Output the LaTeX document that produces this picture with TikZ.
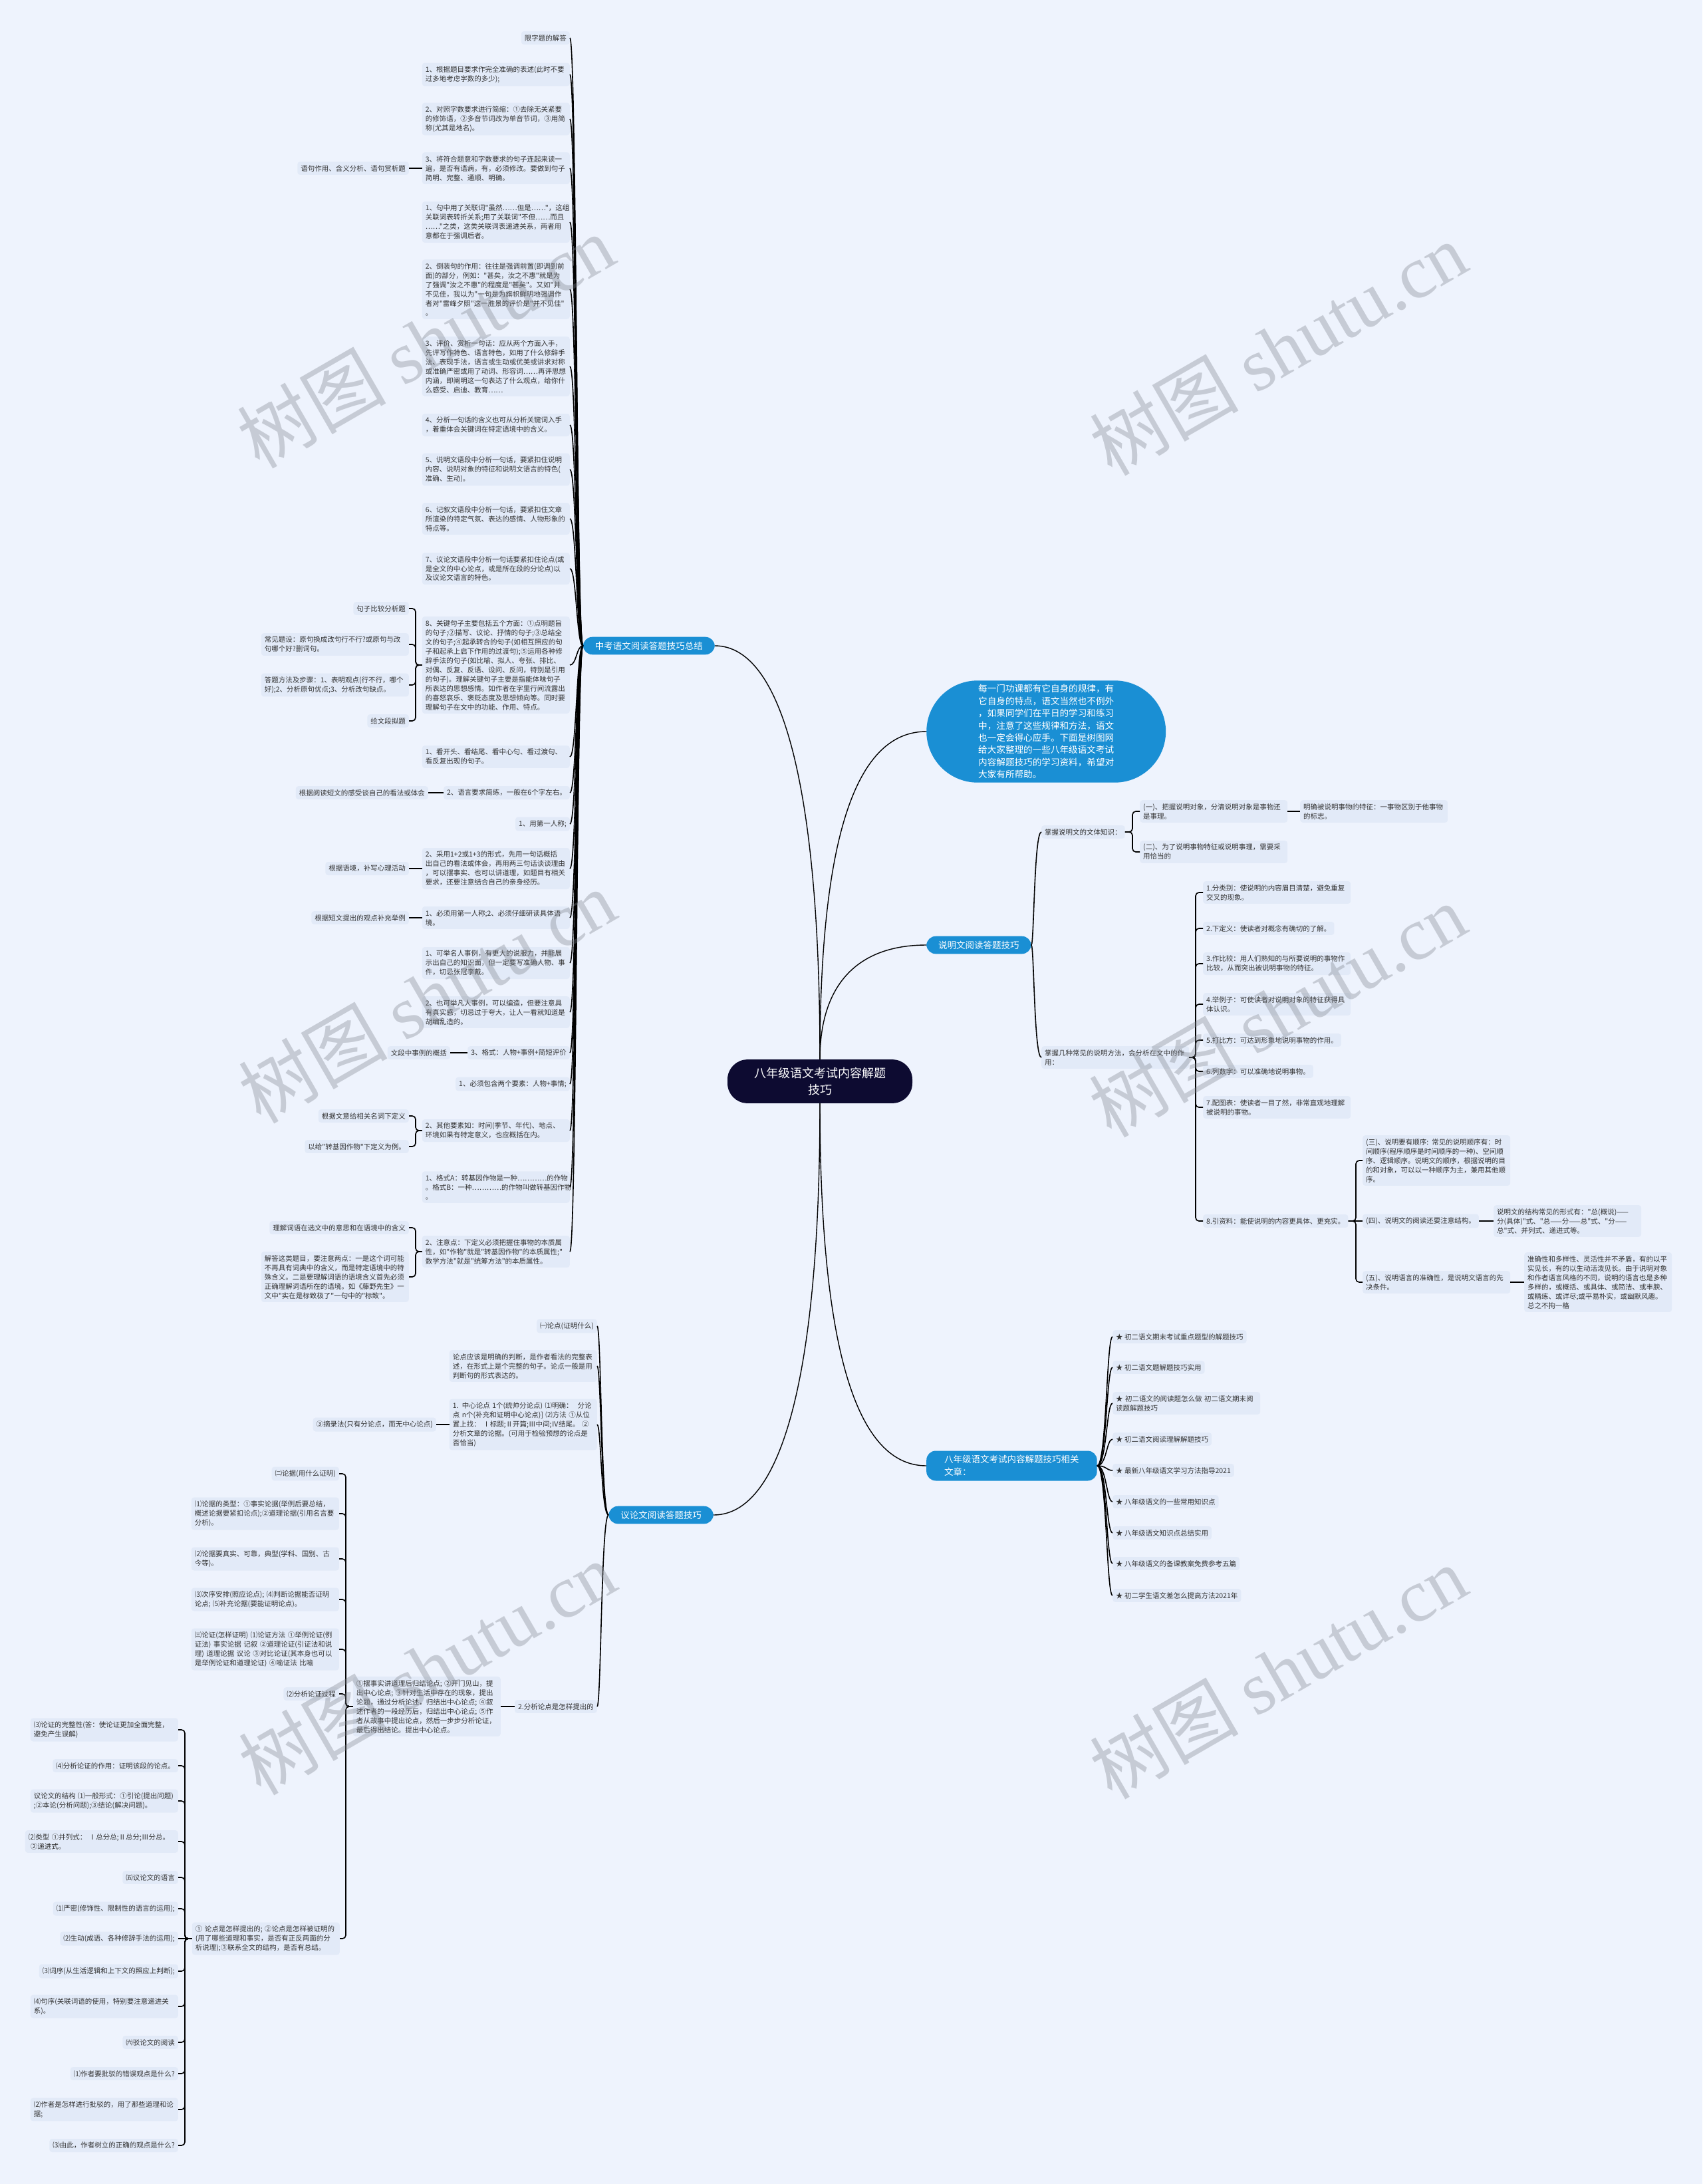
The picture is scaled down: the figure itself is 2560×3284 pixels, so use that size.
\documentclass[tikz,border=0pt]{standalone}
\usepackage{fontspec}
\newfontfamily\cjk{Noto Sans CJK SC}
\newfontfamily\wmfont{Liberation Serif}
\usetikzlibrary{calc}
\definecolor{bgc}{HTML}{EEF3FD}
\definecolor{boxc}{HTML}{E2EAF8}
\definecolor{txtc}{HTML}{333333}
\definecolor{bluec}{HTML}{1A8FD4}
\definecolor{navyc}{HTML}{0D0B31}
\definecolor{wmc}{HTML}{7C818B}
\newcommand\cv[3]{\draw[conn] (#1) .. controls (#3 |- #1) and (#3 |- #2) .. (#2);}
\newcommand\bk[3]{\draw[conn,rounded corners=5pt] (#2) -| (#3 |- #1) -- (#1);}
\begin{document}
\begin{tikzpicture}[x=1pt,y=-1pt,
 tb/.style={fill=boxc, rounded corners=4pt, inner xsep=5pt, inner ysep=5pt, text=txtc, font=\cjk\fontsize{10.5}{14}\selectfont},
 tw/.style={tb, text width=212pt, align=left},
 brn/.style={fill=bluec, rounded corners=14pt, text=white, font=\cjk\fontsize{13.5}{18.5}\selectfont, inner xsep=18pt, inner ysep=7pt},
 conn/.style={draw=black, line width=1.6pt},
 mainc/.style={draw=black, line width=1.4pt},
 wmk/.style={rotate=30, text=wmc, opacity=0.35, font=\cjk\fontsize{112}{112}\selectfont}]
\useasboundingbox (0,0) rectangle (2560,3284);
\fill[bgc] (0,0) rectangle (2560,3284);

% ---------- center and branches ----------
\node[fill=navyc, text=white, rounded corners=30pt, font=\cjk\fontsize{18}{25}\selectfont, align=center, inner xsep=40pt, inner ysep=12pt] (c) at (1233,1626) {八年级语文考试内容解题\\技巧};
\node[brn,anchor=east] (b1) at (1075,971) {中考语文阅读答题技巧总结};
\node[fill=bluec, text=white, rounded corners=77pt, font=\cjk\fontsize{13.6}{18.4}\selectfont, align=left, inner xsep=78pt, inner ysep=6pt, anchor=west] (intro) at (1393,1100) {每一门功课都有它自身的规律，有\\它自身的特点，语文当然也不例外\\，如果同学们在平日的学习和练习\\中，注意了这些规律和方法，语文\\也一定会得心应手。下面是树图网\\给大家整理的一些八年级语文考试\\内容解题技巧的学习资料，希望对\\大家有所帮助。};
\node[brn,anchor=west] (b3) at (1393,1421) {说明文阅读答题技巧};
\node[brn,anchor=west,align=left,inner xsep=27pt] (b4) at (1393,2204) {八年级语文考试内容解题技巧相关\\文章：};
\node[brn,anchor=east] (b5) at (1073,2278) {议论文阅读答题技巧};

\draw[mainc] (b1.east) .. controls (1180,971) and (1233,1200) .. (c.north);
\draw[mainc] (c.north) .. controls (1233,1250) and (1290,1100) .. (intro.west);
\draw[mainc] (c.north) .. controls (1233,1480) and (1290,1421) .. (b3.west);
\draw[mainc] (c.south) .. controls (1233,2000) and (1280,2204) .. (b4.west);
\draw[mainc] (c.south) .. controls (1233,2050) and (1180,2278) .. (b5.east);

\coordinate (sp1) at (867,0);
\coordinate (sp3) at (1555,0);
\coordinate (sp4) at (1664,0);
\coordinate (sp5) at (904,0);
\coordinate (bx1) at (625,0);
\coordinate (bx2) at (1703,0);
\coordinate (bx3) at (1798,0);
\coordinate (bx4) at (2039,0);
\coordinate (bx5) at (520,0);
\coordinate (bx6) at (278,0);

% ---------- branch 1 ----------
\node[tb,anchor=east] (a1) at (857,57) {限字题的解答};
\node[tw,anchor=east] (a2) at (857,112) {1、根据题目要求作完全准确的表述(此时不要\\过多地考虑字数的多少);};
\node[tw,anchor=east] (a3) at (857,179) {2、对照字数要求进行简缩：①去除无关紧要\\的修饰语，②多音节词改为单音节词，③用简\\称(尤其是地名)。};
\node[tw,anchor=east] (a4) at (857,253) {3、将符合题意和字数要求的句子连起来读一\\遍，是否有语病，有，必须修改。要做到句子\\简明、完整、通顺、明确。};
\node[tw,anchor=east] (a5) at (857,334) {1、句中用了关联词"虽然……但是……"，这组\\关联词表转折关系;用了关联词"不但……而且\\……"之类，这类关联词表递进关系，两者用\\意都在于强调后者。};
\node[tw,anchor=east] (a6) at (857,435) {2、倒装句的作用：往往是强调前置(即调到前\\面)的部分，例如："甚矣，汝之不惠"就是为\\了强调"汝之不惠"的程度是"甚矣"。又如"并\\不见佳，我以为"一句是为旗帜鲜明地强调作\\者对"雷峰夕照"这一胜景的评价是"并不见佳"\\。};
\node[tw,anchor=east] (a7) at (857,551) {3、评价、赏析一句话：应从两个方面入手，\\先评写作特色、语言特色，如用了什么修辞手\\法、表现手法，语言或生动或优美或讲求对称\\或准确严密或用了动词、形容词……再评思想\\内涵，即阐明这一句表达了什么观点，给你什\\么感受、启迪、教育……};
\node[tw,anchor=east] (a8) at (857,639) {4、分析一句话的含义也可从分析关键词入手\\，着重体会关键词在特定语境中的含义。};
\node[tw,anchor=east] (a9) at (857,706) {5、说明文语段中分析一句话，要紧扣住说明\\内容、说明对象的特征和说明文语言的特色(\\准确、生动)。};
\node[tw,anchor=east] (a10) at (857,780) {6、记叙文语段中分析一句话，要紧扣住文章\\所渲染的特定气氛、表达的感情、人物形象的\\特点等。};
\node[tw,anchor=east] (a11) at (857,855) {7、议论文语段中分析一句话要紧扣住论点(或\\是全文的中心论点，或是所在段的分论点)以\\及议论文语言的特色。};
\node[tw,anchor=east] (a12) at (857,1000) {8、关键句子主要包括五个方面：①点明题旨\\的句子;②描写、议论、抒情的句子;③总结全\\文的句子;④起承转合的句子(如相互照应的句\\子和起承上启下作用的过渡句);⑤运用各种修\\辞手法的句子(如比喻、拟人、夸张、排比、\\对偶、反复、反语、设问、反问，特别是引用\\的句子)。理解关键句子主要是指能体味句子\\所表达的思想感情。如作者在字里行间流露出\\的喜怒哀乐、褒贬态度及思想倾向等。同时要\\理解句子在文中的功能、作用、特点。};
\node[tw,anchor=east] (a13) at (857,1138) {1、看开头、看结尾、看中心句、看过渡句、\\看反复出现的句子。};
\node[tb,anchor=east] (a14) at (857,1192) {2、语言要求简练，一般在6个字左右。};
\node[tb,anchor=east] (a15) at (857,1239) {1、用第一人称;};
\node[tw,anchor=east] (a16) at (857,1306) {2、采用1+2或1+3的形式，先用一句话概括\\出自己的看法或体会，再用两三句话谈谈理由\\，可以摆事实、也可以讲道理，如题目有相关\\要求，还要注意结合自己的亲身经历。};
\node[tw,anchor=east] (a17) at (857,1380) {1、必须用第一人称;2、必须仔细研读具体语\\境。};
\node[tw,anchor=east] (a18) at (857,1448) {1、可举名人事例，有更大的说服力，并能展\\示出自己的知识面，但一定要写准确人物、事\\件，切忌张冠李戴。};
\node[tw,anchor=east] (a19) at (857,1522) {2、也可举凡人事例，可以编造，但要注意具\\有真实感，切忌过于夸大，让人一看就知道是\\胡编乱造的。};
\node[tb,anchor=east] (a20) at (857,1583) {3、格式：人物+事例+简短评价};
\node[tb,anchor=east] (a21) at (857,1630) {1、必须包含两个要素：人物+事情;};
\node[tw,anchor=east] (a22) at (857,1700) {2、其他要素如：时间(季节、年代)、地点、\\环境如果有特定意义，也应概括在内。};
\node[tw,anchor=east] (a23) at (857,1785) {1、格式A：转基因作物是一种…………的作物\\。格式B：一种…………的作物叫做转基因作物\\。};
\node[tw,anchor=east] (a24) at (857,1882) {2、注意点：下定义必须把握住事物的本质属\\性，如"作物"就是"转基因作物"的本质属性;"\\数学方法"就是"统筹方法"的本质属性。};

\node[tb,anchor=east] (l1) at (615,253) {语句作用、含义分析、语句赏析题};
\node[tb,anchor=east] (l2) at (615,915) {句子比较分析题};
\node[tw,anchor=east] (l3) at (615,969) {常见题设：原句换成改句行不行?或原句与改\\句哪个好?删词句。};
\node[tw,anchor=east] (l4) at (615,1030) {答题方法及步骤：1、表明观点(行不行，哪个\\好);2、分析原句优点;3、分析改句缺点。};
\node[tb,anchor=east] (l5) at (615,1084) {给文段拟题};
\node[tb,anchor=east] (l6) at (644,1192) {根据阅读短文的感受谈自己的看法或体会};
\node[tb,anchor=east] (l7) at (615,1306) {根据语境，补写心理活动};
\node[tb,anchor=east] (l8) at (615,1380) {根据短文提出的观点补充举例};
\node[tb,anchor=east] (l9) at (677,1583) {文段中事例的概括};
\node[tb,anchor=east] (l10) at (615,1678) {根据文意给相关名词下定义};
\node[tb,anchor=east] (l11) at (615,1724) {以给"转基因作物"下定义为例。};
\node[tb,anchor=east] (l12) at (615,1846) {理解词语在选文中的意思和在语境中的含义};
\node[tw,anchor=east] (l13) at (615,1920) {解答这类题目，要注意两点：一是这个词可能\\不再具有词典中的含义，而是特定语境中的特\\殊含义。二是要理解词语的语境含义首先必须\\正确理解词语所在的语境。如《藤野先生》一\\文中"实在是标致极了"一句中的"标致"。};

\foreach \i in {1,...,24} {\cv{b1.west}{a\i.east}{sp1}}
\draw[conn] (l1.east) -- (a4.west);
\foreach \i in {2,3,4,5} {\bk{a12.west}{l\i.east}{bx1}}
\draw[conn] (l6.east) -- (a14.west);
\draw[conn] (l7.east) -- (a16.west);
\draw[conn] (l8.east) -- (a17.west);
\draw[conn] (l9.east) -- (a20.west);
\bk{a22.west}{l10.east}{bx1}
\bk{a22.west}{l11.east}{bx1}
\bk{a24.west}{l12.east}{bx1}
\bk{a24.west}{l13.east}{bx1}

% ---------- branch 3 ----------
\node[tb,anchor=west] (s1) at (1566,1251) {掌握说明文的文体知识：};
\node[tw,anchor=west] (s2) at (1714,1220) {(一)、把握说明对象，分清说明对象是事物还\\是事理。};
\node[tw,anchor=west] (s3) at (1955,1220) {明确被说明事物的特征：一事物区别于他事物\\的标志。};
\node[tw,anchor=west] (s4) at (1714,1281) {(二)、为了说明事物特征或说明事理，需要采\\用恰当的};
\node[tw,anchor=west] (s5) at (1566,1590) {掌握几种常见的说明方法，会分析在文中的作\\用：};
\node[tw,anchor=west] (m1) at (1809,1342) {1.分类别：使说明的内容眉目清楚，避免重复\\交叉的现象。};
\node[tb,anchor=west] (m2) at (1809,1396) {2.下定义：使读者对概念有确切的了解。};
\node[tw,anchor=west] (m3) at (1809,1449) {3.作比较：用人们熟知的与所要说明的事物作\\比较，从而突出被说明事物的特征。};
\node[tw,anchor=west] (m4) at (1809,1510) {4.举例子：可使读者对说明对象的特征获得具\\体认识。};
\node[tb,anchor=west] (m5) at (1809,1564) {5.打比方：可达到形象地说明事物的作用。};
\node[tb,anchor=west] (m6) at (1809,1611) {6.列数字：可以准确地说明事物。};
\node[tw,anchor=west] (m7) at (1809,1665) {7.配图表：使读者一目了然，非常直观地理解\\被说明的事物。};
\node[tb,anchor=west] (m8) at (1809,1836) {8.引资料：能使说明的内容更具体、更充实。};
\node[tw,anchor=west] (t1) at (2049,1745) {(三)、说明要有顺序: 常见的说明顺序有：时\\间顺序(程序顺序是时间顺序的一种)、空间顺\\序、逻辑顺序。说明文的顺序，根据说明的目\\的和对象，可以以一种顺序为主，兼用其他顺\\序。};
\node[tb,anchor=west] (t2) at (2049,1836) {(四)、说明文的阅读还要注意结构。};
\node[tw,anchor=west] (t3) at (2246,1836) {说明文的结构常见的形式有："总(概说)——\\分(具体)"式、"总——分——总"式、"分——\\总"式、并列式、递进式等。};
\node[tw,anchor=west] (t4) at (2049,1928) {(五)、说明语言的准确性，是说明文语言的先\\决条件。};
\node[tw,anchor=west] (t5) at (2292,1928) {准确性和多样性、灵活性并不矛盾，有的以平\\实见长，有的以生动活泼见长。由于说明对象\\和作者语言风格的不同，说明的语言也是多种\\多样的，或概括、或具体、或简洁、或丰腴、\\或精练、或详尽;或平易朴实，或幽默风趣。\\总之不拘一格};

\cv{b3.east}{s1.west}{sp3}
\cv{b3.east}{s5.west}{sp3}
\bk{s1.east}{s2.west}{bx2}
\bk{s1.east}{s4.west}{bx2}
\draw[conn] (s2.east) -- (s3.west);
\foreach \i in {1,...,8} {\bk{s5.east}{m\i.west}{bx3}}
\bk{m8.east}{t1.west}{bx4}
\bk{m8.east}{t4.west}{bx4}
\draw[conn] (m8.east) -- (t2.west);
\draw[conn] (t2.east) -- (t3.west);
\draw[conn] (t4.east) -- (t5.west);

% ---------- branch 4 ----------
\node[tb,anchor=west] (r1) at (1673,2010) {★ 初二语文期末考试重点题型的解题技巧};
\node[tb,anchor=west] (r2) at (1673,2056) {★ 初二语文题解题技巧实用};
\node[tw,anchor=west] (r3) at (1673,2110) {★ 初二语文的阅读题怎么做 初二语文期末阅\\读题解题技巧};
\node[tb,anchor=west] (r4) at (1673,2164) {★ 初二语文阅读理解解题技巧};
\node[tb,anchor=west] (r5) at (1673,2211) {★ 最新八年级语文学习方法指导2021};
\node[tb,anchor=west] (r6) at (1673,2258) {★ 八年级语文的一些常用知识点};
\node[tb,anchor=west] (r7) at (1673,2305) {★ 八年级语文知识点总结实用};
\node[tb,anchor=west] (r8) at (1673,2351) {★ 八年级语文的备课教案免费参考五篇};
\node[tb,anchor=west] (r9) at (1673,2399) {★ 初二学生语文差怎么提高方法2021年};
\foreach \i in {1,...,9} {\cv{b4.east}{r\i.west}{sp4}}

% ---------- branch 5 ----------
\node[tb,anchor=east] (g1) at (898,1994) {㈠论点(证明什么)};
\node[tw,anchor=east] (g2) at (898,2054) {论点应该是明确的判断，是作者看法的完整表\\述，在形式上是个完整的句子。论点一般是用\\判断句的形式表达的。};
\node[tw,anchor=east] (g3) at (898,2142) {1. 中心论点 1个(统帅分论点) ⑴明确：\ \ 分论\\点 n个(补充和证明中心论点)] ⑵方法 ①从位\\置上找：\ Ⅰ标题;Ⅱ开篇;Ⅲ中间;Ⅳ结尾。 ②\\分析文章的论据。(可用于检验预想的论点是\\否恰当)};
\node[tb,anchor=east] (g4) at (656,2142) {③摘录法(只有分论点，而无中心论点)};
\node[tb,anchor=east] (g5) at (898,2566) {2.分析论点是怎样提出的};
\node[tw,anchor=east] (g6) at (753,2566) {①摆事实讲道理后归结论点; ②开门见山，提\\出中心论点; ③针对生活中存在的现象，提出\\论题，通过分析论述，归结出中心论点; ④叙\\述作者的一段经历后，归结出中心论点; ⑤作\\者从故事中提出论点，然后一步步分析论证，\\最后得出结论。提出中心论点。};
\node[tb,anchor=east] (h1) at (510,2216) {㈡论据(用什么证明)};
\node[tw,anchor=east] (h2) at (510,2276) {⑴论据的类型：①事实论据(举例后要总结，\\概述论据要紧扣论点);②道理论据(引用名言要\\分析)。};
\node[tw,anchor=east] (h3) at (510,2344) {⑵论据要真实、可靠，典型(学科、国别、古\\今等)。};
\node[tw,anchor=east] (h4) at (510,2405) {⑶次序安排(照应论点); ⑷判断论据能否证明\\论点; ⑸补充论据(要能证明论点)。};
\node[tw,anchor=east] (h5) at (510,2480) {㈢论证(怎样证明) ⑴论证方法 ①举例论证(例\\证法) 事实论据 记叙 ②道理论证(引证法和说\\理) 道理论据 议论 ③对比论证(其本身也可以\\是举例论证和道理论证) ④喻证法 比喻};
\node[tb,anchor=east] (h6) at (510,2547) {⑵分析论证过程};
\node[tw,anchor=east] (h7) at (511,2915) {① 论点是怎样提出的; ②论点是怎样被证明的\\(用了哪些道理和事实，是否有正反两面的分\\析说理);③联系全文的结构，是否有总结。};
\node[tw,anchor=east] (k1) at (268,2601) {⑶论证的完整性(答：使论证更加全面完整，\\避免产生误解)};
\node[tb,anchor=east] (k2) at (268,2655) {⑷分析论证的作用：证明该段的论点。};
\node[tw,anchor=east] (k3) at (268,2708) {议论文的结构 ⑴一般形式：①引论(提出问题)\\;②本论(分析问题);③结论(解决问题)。};
\node[tw,anchor=east,text width=220pt] (k4) at (268,2769) {⑵类型~①并列式：~Ⅰ总分总;Ⅱ总分;Ⅲ分总。\\\hspace*{3pt}②递进式。};
\node[tb,anchor=east] (k5) at (268,2823) {㈤议论文的语言};
\node[tb,anchor=east] (k6) at (268,2870) {⑴严密(修饰性、限制性的语言的运用);};
\node[tb,anchor=east] (k7) at (268,2915) {⑵生动(成语、各种修辞手法的运用);};
\node[tb,anchor=east] (k8) at (268,2964) {⑶词序(从生活逻辑和上下文的照应上判断);};
\node[tw,anchor=east] (k9) at (268,3017) {⑷句序(关联词语的使用，特别要注意递进关\\系)。};
\node[tb,anchor=east] (k10) at (268,3071) {㈥驳论文的阅读};
\node[tb,anchor=east] (k11) at (268,3118) {⑴作者要批驳的错误观点是什么?};
\node[tw,anchor=east] (k12) at (268,3172) {⑵作者是怎样进行批驳的，用了那些道理和论\\据;};
\node[tb,anchor=east] (k13) at (268,3226) {⑶由此，作者树立的正确的观点是什么?};

\cv{b5.west}{g1.east}{sp5}
\cv{b5.west}{g2.east}{sp5}
\cv{b5.west}{g3.east}{sp5}
\cv{b5.west}{g5.east}{sp5}
\draw[conn] (g4.east) -- (g3.west);
\draw[conn] (g6.east) -- (g5.west);
\foreach \i in {1,...,7} {\bk{g6.west}{h\i.east}{bx5}}
\foreach \i in {1,2,3,4,5,6,8,9,10,11,12,13} {\bk{h7.west}{k\i.east}{bx6}}
\draw[conn] (k7.east) -- (h7.west);

% ---------- watermarks ----------
\node[wmk] (w1) at (640,513) {树图 {\wmfont shutu.cn}};
\node[wmk] (w2) at (1922,524) {树图 {\wmfont shutu.cn}};
\node[wmk] (w3) at (642,1498) {树图 {\wmfont shutu.cn}};
\node[wmk] (w4) at (1921,1519) {树图 {\wmfont shutu.cn}};
\node[wmk] (w5) at (642,2508) {树图 {\wmfont shutu.cn}};
\node[wmk] (w6) at (1922,2514) {树图 {\wmfont shutu.cn}};
\end{tikzpicture}
\end{document}
